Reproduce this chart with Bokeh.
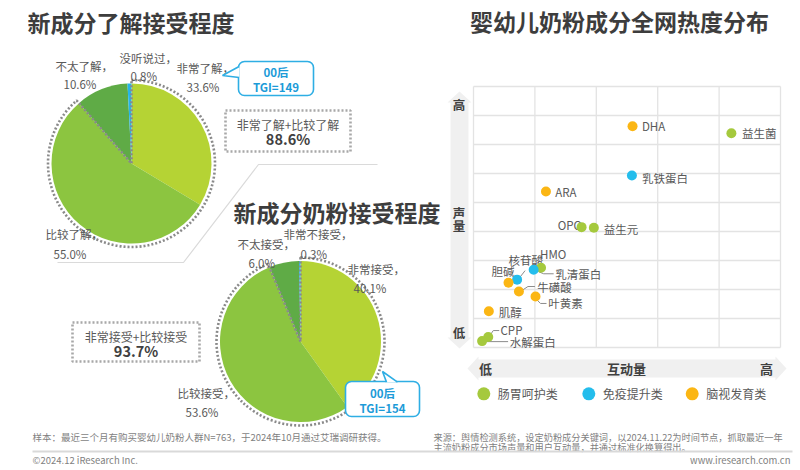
import numpy as np
from bokeh.plotting import figure
from bokeh.models import Range1d, ColumnDataSource
from bokeh.layouts import row, column
from bokeh.core.properties import value
from bokeh.embed import file_html
from bokeh.resources import INLINE

# ---------------- data ----------------
aware_labels = ["非常了解", "比较了解", "不太了解", "没听说过"]
aware_values = [33.6, 55.0, 10.6, 0.8]
aware_tgi = 149

accept_labels = ["非常接受", "比较接受", "不太接受", "非常不接受"]
accept_values = [40.1, 53.6, 6.0, 0.3]
accept_tgi = 154

ingredients = ["DHA", "益生菌", "乳铁蛋白", "ARA", "OPO", "益生元", "HMO", "核苷酸",
               "胆碱", "乳清蛋白", "牛磺酸", "叶黄素", "肌醇", "CPP", "水解蛋白"]
interaction = [2.59, 4.20, 2.58, 1.18, 1.76, 1.96, 1.10, 0.71,
               0.57, 0.98, 0.74, 1.01, 0.25, 0.24, 0.14]
volume = [7.63, 7.39, 5.93, 5.38, 4.15, 4.13, 2.75, 2.34,
          2.23, 2.68, 1.93, 1.76, 1.25, 0.36, 0.22]
category = ["脑视发育类", "肠胃呵护类", "免疫提升类", "脑视发育类", "肠胃呵护类", "肠胃呵护类",
            "肠胃呵护类", "免疫提升类", "脑视发育类", "免疫提升类", "脑视发育类", "脑视发育类",
            "脑视发育类", "肠胃呵护类", "肠胃呵护类"]
categories = ["肠胃呵护类", "免疫提升类", "脑视发育类"]
x_ticks = [0, 1, 2, 3, 4, 5]
y_ticks = [0, 1, 2, 3, 4, 5, 6, 7, 8, 9]

# ---------------- styles ----------------
FONT = value("Noto Sans CJK SC")
TITLE_C = "#3d3d3d"
LAB_C = "#595959"
CYAN = "#2eaee4"
CYAN_T = "#1c9bd8"
DOT_C = "#8a8a8a"
BOX_C = "#a8a8a8"
PIE_COLORS = ["#b5d334", "#8cc540", "#5fab46", "#27b5e8"]
CAT_COLORS = {"肠胃呵护类": "#a5c93d", "免疫提升类": "#24bdec", "脑视发育类": "#fbb614"}

W_L, W_R, H_T, H_F = 444, 352, 428, 38   # figure sizes (px)


def txt(p, x, y, s, size, color, bold=False, align="left"):
    p.text(x=[x], y=[y], text=[s], text_font=FONT, text_font_size=f"{size}px",
           text_color=color, text_font_style="bold" if bold else "normal",
           text_align=align, text_baseline="middle")


def blank(p):
    p.grid.visible = False
    p.outline_line_color = None
    p.background_fill_color = "white"
    p.border_fill_color = "white"


# ================= left figure (pies) =================
L = figure(width=W_L, height=H_T, x_range=Range1d(0, W_L), y_range=Range1d(-H_T, 0),
           output_backend="svg", toolbar_location=None, min_border=0,
           x_axis_location=None, y_axis_location=None)
blank(L)

# separator line
L.line(x=[57, 183, 258, 377], y=[-262, -262, -164, -164], line_color="#dadada", line_width=1.2)


def pie(p, cx, cy, r, values):
    v = np.array(values, dtype=float)
    fr = v / v.sum()
    cum = np.concatenate([[0.0], np.cumsum(fr)])
    start = np.pi / 2 - 2 * np.pi * cum[:-1]
    end = np.pi / 2 - 2 * np.pi * cum[1:]
    n = len(v)
    p.wedge(x=[cx] * n, y=[cy] * n, radius=r, start_angle=start, end_angle=end,
            direction="clock", fill_color=PIE_COLORS[:n], line_color=None)
    share = sum(values[:2]) / v.sum()
    p.wedge(x=[cx], y=[cy], radius=r + 3.5, start_angle=[np.pi / 2],
            end_angle=[np.pi / 2 - 2 * np.pi * share], direction="clock",
            fill_color=None, line_color=DOT_C, line_width=2.6, line_dash="2 2")


def callout(p, l, r, t, b, tail, s1, s2):
    p.quad(left=[l], right=[r], top=[-t], bottom=[-b], fill_color="white",
           line_color=CYAN, line_width=1.6, border_radius=6)
    xs = [pt[0] for pt in tail]
    ys = [-pt[1] for pt in tail]
    p.patch(x=xs, y=ys, fill_color="white", line_color=None)
    p.line(x=xs, y=ys, line_color=CYAN, line_width=1.6)
    cx = (l + r) / 2
    txt(p, cx, -(t + (b - t) * 0.32), s1, 11.5, CYAN_T, bold=True, align="center")
    txt(p, cx, -(t + (b - t) * 0.76), s2, 11.5, CYAN_T, bold=True, align="center")


def dotted_box(p, l, r, t, b, s1, s2):
    p.quad(left=[l], right=[r], top=[-t], bottom=[-b], fill_color=None,
           line_color=BOX_C, line_width=2.6, line_dash="2 2")
    cx = (l + r) / 2
    txt(p, cx, -(t + 13.5), s1, 12, LAB_C, align="center")
    txt(p, cx, -(t + 28), s2, 14.5, "#404040", bold=True, align="center")


# --- pie 1 ---
txt(L, 27, -21, "新成分了解接受程度", 23, TITLE_C, bold=True)
pie(L, 131, -163, 80, aware_values)
a_lab = [(176, -67, -86), (45, -233, -253), (55, -65, -83), (119, -57, -75)]
a_pct_dx = [10, 8, 8, 11]
for i, (lx, y1, y2) in enumerate(a_lab):
    txt(L, lx, y1, aware_labels[i] + "，", 11.5, LAB_C)
    txt(L, lx + a_pct_dx[i], y2, f"{aware_values[i]:.1f}%", 11.5, LAB_C)
callout(L, 238, 313, 61, 95, [(238.6, 66), (222, 75), (238.6, 77)], "00后", f"TGI={aware_tgi}")
dotted_box(L, 225, 350, 110, 151, aware_labels[0] + "+" + aware_labels[1],
           f"{aware_values[0] + aware_values[1]:.1f}%")

# --- pie 2 ---
txt(L, 233, -211, "新成分奶粉接受程度", 23, TITLE_C, bold=True)
pie(L, 300, -341, 80.5, accept_values)
b_lab = [(347, -268, -287), (177, -392, -411), (237, -243, -262), (283, -233, -253)]
b_pct_dx = [6, 8, 11, 17]
for i, (lx, y1, y2) in enumerate(b_lab):
    txt(L, lx, y1, accept_labels[i] + "，", 11.5, LAB_C)
    txt(L, lx + b_pct_dx[i], y2, f"{accept_values[i]:.1f}%", 11.5, LAB_C)
dotted_box(L, 72, 199, 322, 361, accept_labels[0] + "+" + accept_labels[1],
           f"{accept_values[0] + accept_values[1]:.1f}%")
callout(L, 345, 419, 381, 416, [(386, 381.6), (382, 371), (397, 381.6)], "00后", f"TGI={accept_tgi}")

# ================= right figure (scatter) =================
FX0, FX1, FY0, FY1 = 473.0, 780.0, 347.0, 86.0   # grid frame in page pixels
XU = (FX1 - FX0) / (len(x_ticks) - 1)
YU = (FY0 - FY1) / (len(y_ticks) - 1)


def X(px):
    return (px - FX0) / XU


def Y(py):
    return (FY0 - py) / YU


R = figure(width=W_R, height=H_T, x_range=Range1d(X(W_L), X(W_L + W_R)), y_range=Range1d(Y(H_T), Y(0)),
           output_backend="svg", toolbar_location=None, min_border=0,
           x_axis_location=None, y_axis_location=None)
blank(R)

txt(R, X(619), Y(20), "婴幼儿奶粉成分全网热度分布", 23, TITLE_C, bold=True, align="center")

# axis bands (double arrows)
yb = [(459, 91), (471, 102), (468, 102), (468, 337), (471, 337), (459, 348),
      (447, 337), (450, 337), (450, 102), (447, 102)]
R.patch(x=[X(a) for a, b in yb], y=[Y(b) for a, b in yb], fill_color="#f0f0f0", line_color=None)
xb = [(467, 368), (478, 356), (478, 359), (775, 359), (775, 356), (786, 368),
      (775, 380), (775, 377), (478, 377), (478, 380)]
R.patch(x=[X(a) for a, b in xb], y=[Y(b) for a, b in xb], fill_color="#f0f0f0", line_color=None)
txt(R, X(458.5), Y(103.5), "高", 12.5, "#404040", bold=True, align="center")
txt(R, X(458.5), Y(211.5), "声", 12.5, "#404040", bold=True, align="center")
txt(R, X(458.5), Y(225), "量", 12.5, "#404040", bold=True, align="center")
txt(R, X(458.5), Y(331.5), "低", 12.5, "#404040", bold=True, align="center")
txt(R, X(485), Y(368), "低", 13, "#404040", bold=True, align="center")
txt(R, X(626), Y(368), "互动量", 13, "#404040", bold=True, align="center")
txt(R, X(766), Y(368), "高", 13, "#404040", bold=True, align="center")

# grid
R.segment(x0=x_ticks, y0=[y_ticks[0]] * len(x_ticks), x1=x_ticks, y1=[y_ticks[-1]] * len(x_ticks),
          line_color="#e3e3e3", line_width=1.3)
R.segment(x0=[x_ticks[0]] * len(y_ticks), y0=y_ticks, x1=[x_ticks[-1]] * len(y_ticks), y1=y_ticks,
          line_color="#e3e3e3", line_width=1.3)

# labels (pixel offsets from each point)
lab_off = [(9.4, 0), (10.7, 0), (10, 2), (9.3, 1), (0.5, -2), (10, 1.5), (-1, -14), (-8.7, -20),
           (-17, -12), (21.7, 4), (18.4, -4.3), (12.7, 6.7), (10, 1), (12.3, -6.7), (27.6, 1)]
lab_align = ["left"] * len(ingredients)
lab_align[4] = "right"
ix = np.array(interaction)
vy = np.array(volume)
lsrc = ColumnDataSource(dict(
    x=ix + np.array([o[0] for o in lab_off]) / XU,
    y=vy - np.array([o[1] for o in lab_off]) / YU,
    t=ingredients, a=lab_align))
R.text(x="x", y="y", text="t", text_align="a", source=lsrc, text_font=FONT,
       text_font_size="11.5px", text_color=LAB_C, text_baseline="middle")

leaders = {
    "核苷酸": [(2.5, -2), (8, -9)],
    "乳清蛋白": [(5, 2), (10, 4), (20, 4)],
    "牛磺酸": [(3, -1), (9, -5), (16, -5)],
    "叶黄素": [(1, 3), (5, 7), (11, 7)],
    "CPP": [(2, -2), (5, -6.5), (11, -6.5)],
    "水解蛋白": [(4, 0.5), (26, 0.5)],
}
mxs, mys = [], []
for name, pts in leaders.items():
    k = ingredients.index(name)
    mxs.append([interaction[k] + dx / XU for dx, dy in pts])
    mys.append([volume[k] - dy / YU for dx, dy in pts])
R.multi_line(xs=mxs, ys=mys, line_color="#8c8c8c", line_width=1)

R.scatter(x=interaction, y=volume, size=10, fill_color=[CAT_COLORS[c] for c in category],
          line_color=None)

# legend
leg_x = [483.3, 588.3, 691.7]
R.scatter(x=[X(a) for a in leg_x], y=[Y(393.3)] * 3, size=13,
          fill_color=[CAT_COLORS[c] for c in categories], line_color=None)
for i, c in enumerate(categories):
    txt(R, X(leg_x[i] + 14), Y(393.3), c, 12, LAB_C)

# ================= footer =================
F = figure(width=W_L + W_R, height=H_F, x_range=Range1d(0, W_L + W_R), y_range=Range1d(-(H_T + H_F), -H_T),
           output_backend="svg", toolbar_location=None, min_border=0,
           x_axis_location=None, y_axis_location=None)
blank(F)
FOOT_C = "#7f7f7f"
txt(F, 32, -436, "样本：最近三个月有购买婴幼儿奶粉人群N=763，于2024年10月通过艾瑞调研获得。", 9.5, FOOT_C)
txt(F, 433, -436, "来源：舆情检测系统，设定奶粉成分关键词，以2024.11.22为时间节点，抓取最近一年", 9.2, FOOT_C)
txt(F, 433, -446, "主流奶粉成分市场声量和用户互动量，并通过标准化换算得出。", 9.2, FOOT_C)
F.line(x=[32, 792], y=[-451, -451], line_color="#d9d9d9", line_width=2)
txt(F, 32, -459, "©2024.12 iResearch Inc.", 9.5, FOOT_C)
txt(F, 790, -459, "www.iresearch.com.cn", 9.5, FOOT_C, align="right")

layout = column(row(L, R, spacing=0), F, spacing=0)
open("out.html", "w").write(file_html(layout, INLINE))
